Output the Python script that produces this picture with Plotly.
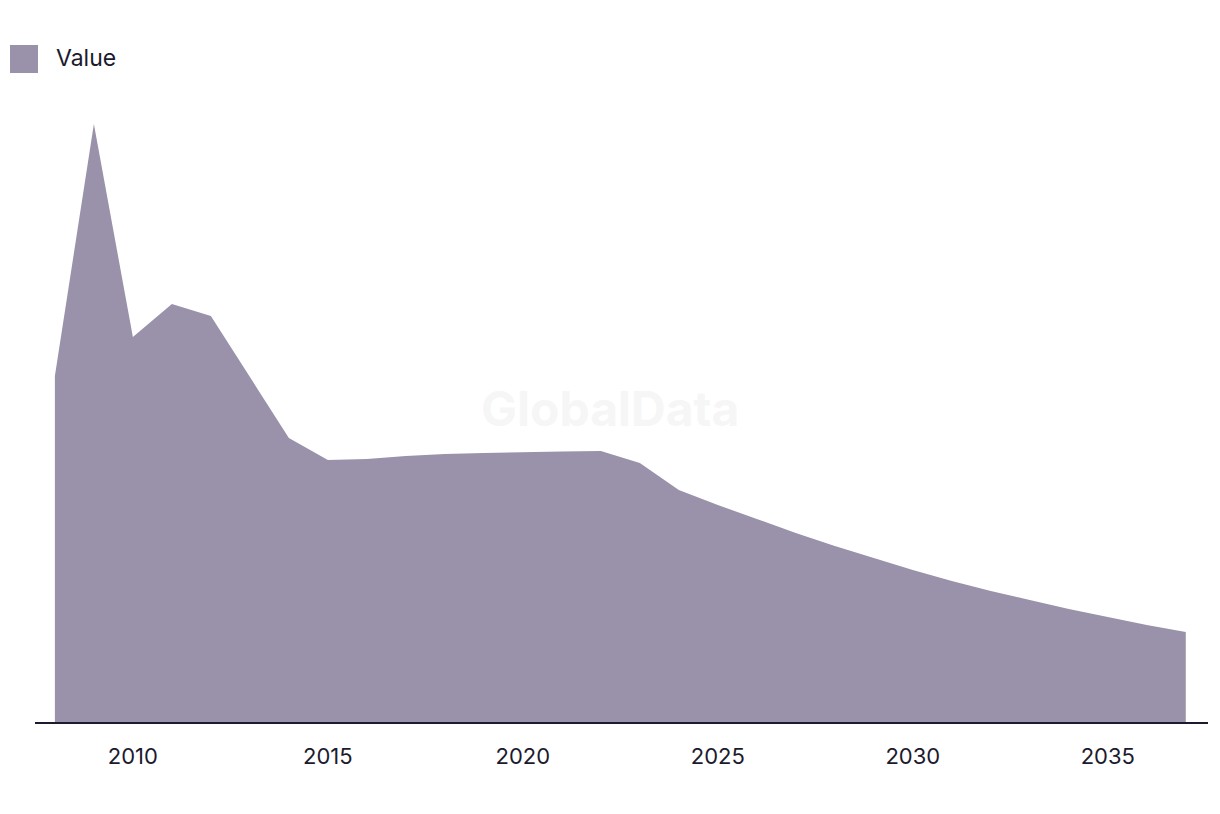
import plotly.graph_objects as go

years = list(range(2008, 2038))
values = [346, 598, 385, 418, 406, 345, 284, 262, 263, 266, 268, 269, 270, 270.5, 271,
          259, 232, 217, 203, 189, 176, 164, 152, 141, 131, 122, 113, 105, 97, 90]
tick_vals = [2010, 2015, 2020, 2025, 2030, 2035]
series_name = "Value"

FILL = "#9a91aa"
INK = "#1b1a2e"
FONT = "Inter, Roboto, 'Noto Sans', sans-serif"

fig = go.Figure()
fig.add_trace(go.Scatter(
    x=years, y=values, name=series_name, mode="lines",
    line=dict(width=0, color=FILL), fill="tozeroy", fillcolor=FILL,
    showlegend=False, hoverinfo="x+y",
))

# plot area: x 35..1208 px, y 100..722 px
fig.update_layout(
    width=1220, height=814,
    margin=dict(l=35, r=12, t=100, b=92),
    paper_bgcolor="white", plot_bgcolor="white",
    font=dict(family=FONT, color=INK, size=20),
    xaxis=dict(range=[2007.49, 2037.57], tickvals=tick_vals, ticks="",
               showgrid=False, zeroline=False, showline=False,
               tickfont=dict(size=22, color=INK), ticklabelstandoff=19),
    yaxis=dict(range=[0, 622], visible=False, showgrid=False, zeroline=False),
    shapes=[
        dict(type="line", xref="paper", yref="paper", x0=0, x1=1, y0=-0.0016, y1=-0.0016,
             line=dict(color=INK, width=2), layer="above"),
        dict(type="rect", xref="paper", yref="paper",
             x0=(10 - 35) / 1173, x1=(38 - 35) / 1173,
             y0=(722 - 73) / 622, y1=(722 - 45) / 622,
             fillcolor=FILL, line=dict(width=0)),
    ],
    annotations=[
        dict(text=series_name, xref="paper", yref="paper",
             x=(54 - 35) / 1173, y=(722 - 58) / 622, xanchor="left", yanchor="middle",
             showarrow=False, font=dict(size=23, color=INK, family=FONT)),
        dict(text="<b>GlobalData</b>", xref="paper", yref="paper",
             x=(610 - 35) / 1173, y=(722 - 408) / 622, xanchor="center", yanchor="middle",
             showarrow=False, font=dict(size=48, color="rgba(235,235,235,0.45)", family=FONT)),
    ],
)

fig.write_html("out.html")
